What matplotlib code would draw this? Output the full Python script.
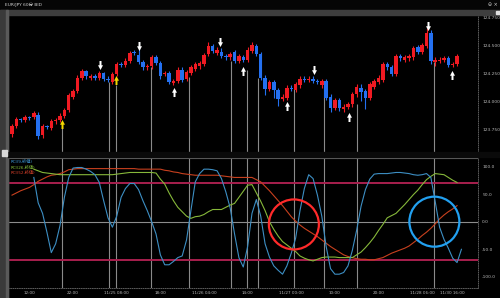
import matplotlib
matplotlib.use("Agg")
import matplotlib.pyplot as plt
import numpy as np
from matplotlib.path import Path
from matplotlib.patches import Rectangle

# ---------------- data ----------------
title = "EUR/JPY 60分 BID"
opens = [
123.71,123.78,123.84,123.83,123.86,123.86,123.88,123.70,123.78,123.76,
123.82,123.83,123.87,123.92,124.04,124.09,124.21,124.27,124.21,124.22,
124.21,124.25,124.20,124.17,124.24,124.33,124.32,124.36,124.44,124.41,
124.35,124.30,124.31,124.39,124.34,124.24,124.25,124.16,124.18,124.28,
124.20,124.25,124.29,124.31,124.33,124.42,124.49,124.43,124.44,124.40,
124.39,124.44,124.36,124.39,124.37,124.45,124.49,124.42,124.21,124.11,
124.17,124.10,124.02,124.03,124.12,124.10,124.14,124.20,124.19,124.20,
124.18,124.14,124.18,124.04,123.94,124.01,123.93,123.95,123.97,124.06,
124.12,124.09,124.03,124.13,124.17,124.19,124.33,124.30,124.24,124.40,
124.37,124.38,124.39,124.48,124.44,124.49,124.61,124.35,124.36,124.37,
124.38,124.32,124.33]
closes = [
123.78,123.84,123.83,123.86,123.85,123.89,123.69,123.78,123.77,123.82,
123.83,123.87,123.92,124.05,124.09,124.21,124.27,124.22,124.22,124.21,
124.25,124.20,124.19,124.24,124.33,124.32,124.36,124.43,124.43,124.35,
124.30,124.31,124.39,124.34,124.22,124.25,124.17,124.18,124.28,124.19,
124.26,124.30,124.33,124.34,124.41,124.49,124.45,124.46,124.40,124.39,
124.42,124.36,124.40,124.37,124.46,124.50,124.42,124.21,124.11,124.17,
124.10,124.02,124.04,124.12,124.11,124.15,124.20,124.19,124.20,124.18,
124.17,124.18,124.03,123.94,124.01,123.94,123.95,123.97,124.06,124.13,
124.08,124.03,124.15,124.18,124.21,124.33,124.30,124.24,124.40,124.38,
124.39,124.40,124.47,124.44,124.50,124.61,124.36,124.37,124.37,124.38,
124.32,124.33,124.40]
highs = [
123.80,123.86,123.85,123.88,123.87,123.91,123.90,123.80,123.79,123.84,
123.85,123.89,123.94,124.07,124.11,124.23,124.29,124.28,124.24,124.24,
124.27,124.26,124.22,124.26,124.35,124.35,124.38,124.45,124.46,124.47,
124.37,124.33,124.41,124.41,124.36,124.27,124.27,124.20,124.30,124.30,
124.28,124.32,124.35,124.36,124.43,124.53,124.51,124.48,124.47,124.42,
124.44,124.46,124.42,124.41,124.48,124.53,124.51,124.44,124.23,124.19,
124.19,124.12,124.06,124.14,124.14,124.17,124.22,124.22,124.22,124.22,
124.20,124.20,124.20,124.06,124.03,124.03,123.97,123.99,124.08,124.15,
124.15,124.11,124.17,124.20,124.23,124.35,124.35,124.32,124.42,124.42,
124.41,124.42,124.49,124.50,124.52,124.65,124.63,124.39,124.39,124.40,
124.40,124.35,124.42]
lows = [
123.68,123.76,123.81,123.81,123.83,123.84,123.66,123.67,123.75,123.74,
123.80,123.81,123.85,123.90,124.02,124.07,124.19,124.20,124.19,124.19,
124.19,124.18,124.17,124.15,124.22,124.30,124.30,124.34,124.41,124.33,
124.28,124.28,124.29,124.32,124.20,124.22,124.15,124.14,124.16,124.17,
124.18,124.23,124.27,124.29,124.31,124.40,124.43,124.41,124.38,124.37,
124.37,124.34,124.34,124.35,124.35,124.43,124.40,124.19,124.05,124.09,
124.03,123.96,124.00,124.01,124.09,124.08,124.12,124.17,124.17,124.16,
124.15,124.12,124.01,123.90,123.92,123.91,123.90,123.93,123.95,124.04,
124.00,123.93,124.01,124.11,124.15,124.17,124.28,124.22,124.22,124.36,
124.35,124.36,124.37,124.42,124.42,124.47,124.33,124.31,124.34,124.35,
124.30,124.30,124.31]

rci9_start = 5
rci9 = [80,34,15,-19,-56,-40,-7,44,80,97,98,98,95,91,85,71,38,7,-10,10,
        44,60,69,69,58,38,20,0,-22,-60,-78,-78,-72,-65,-62,-33,20,72,87,95,
        95,94,92,78,54,25,-22,-65,-82,-45,15,40,10,-40,-64,-80,-88,-95,-80,-57,
        -30,20,60,85,78,48,10,-45,-85,-95,-95,-92,-80,-52,-15,28,58,77,86,87,
        87,87,88,89,89,88,87,85,84,85,87,80,36,-10,-32,-48,-66,-74,-50]
rci26_start = 5
rci26 = [95,92,89,88,87,86,85,85,85,85,85,85,85,85,85,85,85,85,85,86,
         87,88,89,89,89,89,89,89,88,77,68,52,38,26,18,10,6,9,10,13,
         18,22,22,22,26,30,33,44,55,66,67,52,37,20,0,-14,-26,-36,-42,-48,
         -54,-62,-66,-69,-71,-68,-65,-64,-64,-64,-65,-65,-65,-65,-60,-55,-47,-38,-28,-16,
         -5,7,11,15,23,31,40,49,57,67,76,82,87,86,85,80,75,71]
rci52_start = 0
rci52 = [48,52,56,59,62,67,73,77,81,84,85,87,90,94,95,96,96,96,96,96,
         96,96,96,96,96,96,96,96,96,95,95,95,95,95,95,93,92,90,89,87,
         86,85,84,84,84,84,84,84,83,82,81,80,80,80,80,80,76,72,64,56,
         47,38,29,19,9,1,-6,-12,-17,-22,-27,-33,-39,-45,-50,-55,-60,-63,-65,-67,
         -68,-68,-69,-69,-67,-65,-61,-57,-54,-51,-48,-44,-38,-32,-25,-19,-12,-4,5,12,
         18,23,29]

# signal lines (bar position, price where the line starts)
signal_x = [11.5, 22.3, 23.8, 31.9, 40.6, 50.2, 53.9, 56.4, 64.6, 71.5, 79.1, 96.7]
signal_top = [123.768, 124.166, 124.148, 124.308, 124.219, 124.361, 124.281,
              124.210, 124.104, 124.131, 123.971, 124.352]

# arrows (bar position, price, direction, colour)
arrow_x = [11.5, 20.2, 23.8, 29.1, 37.1, 47.7, 52.9, 63.0, 69.2, 77.2, 95.3, 100.8]
arrow_y = [123.80, 124.325, 124.19, 124.49, 124.08, 124.53, 124.27, 123.96,
           124.28, 123.86, 124.67, 124.23]
arrow_dir = ["up", "down", "up", "down", "up", "down", "up", "up", "down", "up", "down", "up"]
arrow_col = ["yellow", "white", "yellow", "white", "white", "white", "white", "white",
             "white", "white", "white", "white"]

circle_x = [64.6, 96.8]
circle_y = [-5, 0]
circle_col = ["#ff2a2a", "#22a0f0"]

price_ticks = [123.75, 124.0, 124.25, 124.5, 124.75]
rci_ticks = [-100, -50, 0, 50, 100]
time_pos = [4, 14, 24, 34, 44, 54, 64, 74, 84, 94, 101]
time_labels = ["12:00", "22:00", "11/25 08:00", "18:00", "11/26 04:00", "14:00",
               "11/27 00:00", "10:00", "20:00", "11/28 06:00", "11/30 16:00"]
legend_labels = ["RCI(9,終値)", "RCI(26,終値)", "RCI(52,終値)"]
rci_level = 70

# ---------------- figure ----------------
W, H = 500, 298
fig = plt.figure(figsize=(W / 100, H / 100), dpi=100, facecolor="black")
FAM = ["DejaVu Sans", "Noto Sans CJK JP"]

def fr(x0, y0, x1, y1):
    return [x0 / W, 1 - y1 / H, (x1 - x0) / W, (y1 - y0) / H]

def rect(x0, y0, x1, y1, color):
    fig.patches.append(Rectangle((x0 / W, 1 - y1 / H), (x1 - x0) / W, (y1 - y0) / H,
                                 transform=fig.transFigure, color=color, zorder=0))

rect(0, 0, 500, 10, "#050505")
rect(0, 10, 500, 15, "#3e3e3e")
rect(0, 10, 8, 298, "#3a3a3a")
rect(6, 10, 8, 298, "#5a5a5a")
rect(496, 11, 500, 14, "#e0e0e0")
rect(8, 152, 500, 157, "#0a0a0a")
rect(2, 150, 7, 156, "#d8d8d8")
fig.text(5 / W, 1 - 5 / H, title, color="#d0d0d0", fontsize=3.2, va="center",
         ha="left", family=FAM)
fig.text(493 / W, 1 - 5 / H, "⊖ ×", color="#d0d0d0", fontsize=3.5, va="center",
         ha="center", family=FAM)

ax1 = fig.add_axes(fr(8, 15, 478, 152), facecolor="black")
ax2 = fig.add_axes(fr(8, 157, 478, 288), facecolor="black")

x0lim, x1lim = -0.92, 106.8
n = len(opens)
idx = np.arange(n)
o = np.array(opens); c = np.array(closes)
hi = np.array(highs); lo = np.array(lows)
up = c >= o
cols = np.where(up, "#f01a22", "#2470f0")
bottoms = np.minimum(o, c)
heights = np.maximum(np.abs(c - o), 0.010)

# signal lines
ax1.vlines(signal_x, [123.546] * len(signal_x), signal_top, color="#8a8a8a", lw=0.8, zorder=1)
ax2.vlines(signal_x, -130, 130, color="#8a8a8a", lw=0.8, zorder=1)

ax1.vlines(idx, lo, hi, color=cols, lw=0.8, zorder=2)
ax1.bar(idx, heights, bottom=bottoms, width=0.8, color=cols, zorder=3, linewidth=0)

down_arrow = Path([(-0.22, 1.0), (0.22, 1.0), (0.22, 0.05), (0.55, 0.05), (0, -1.0),
                   (-0.55, 0.05), (-0.22, 0.05), (-0.22, 1.0)],
                  [Path.MOVETO] + [Path.LINETO] * 6 + [Path.CLOSEPOLY])
up_arrow = Path(down_arrow.vertices * np.array([1, -1]), down_arrow.codes)
colmap = {"white": "#ffffff", "yellow": "#f5d800"}
for ax_, ay, d, cc in zip(arrow_x, arrow_y, arrow_dir, arrow_col):
    ax1.plot([ax_], [ay], marker=(down_arrow if d == "down" else up_arrow),
             markersize=6.5, color=colmap[cc], markeredgewidth=0, zorder=5)

ax1.set_xlim(x0lim, x1lim)
ax1.set_ylim(123.546, 124.768)

# lower panel
ax2.axhline(0, color="#8c8c8c", lw=0.8, zorder=1)
ax2.axhline(rci_level, color="#a81f4e", lw=1.4, zorder=1)
ax2.axhline(-rci_level, color="#a81f4e", lw=1.4, zorder=1)
ax2.axhline(116, color="#6a6a6a", lw=0.8, zorder=1)

ax2.plot(np.arange(len(rci52)) + rci52_start, rci52, color="#c8401e", lw=0.8, zorder=3)
ax2.plot(np.arange(len(rci26)) + rci26_start, rci26, color="#86b83a", lw=0.8, zorder=3)
ax2.plot(np.arange(len(rci9)) + rci9_start, rci9, color="#3d8fc4", lw=0.8, zorder=3)

for cx, cy, cc in zip(circle_x, circle_y, circle_col):
    ax2.scatter([cx], [cy], s=36 ** 2, facecolors="none", edgecolors=cc, linewidths=1.6, zorder=6)

leg_cols = ["#3d9ad8", "#86c03a", "#d8402a"]
for k, (lab, lc) in enumerate(zip(legend_labels, leg_cols)):
    ax2.text(0.006, 0.962 - k * 0.042, lab, transform=ax2.transAxes, color=lc,
             fontsize=3.0, va="center", ha="left", family=FAM, zorder=7)

ax2.set_xlim(x0lim, x1lim)
ax2.set_ylim(-120, 117)

for ax in (ax1, ax2):
    for s in ("top", "left", "bottom", "right"):
        ax.spines[s].set_visible(False)
    ax.spines["right"].set_visible(True)
    ax.spines["right"].set_color("#6a6a6a")
    ax.spines["right"].set_linestyle(":")
    ax.spines["right"].set_linewidth(0.6)
    ax.yaxis.tick_right()
    ax.tick_params(axis="y", length=0, pad=3, labelsize=3.2, labelcolor="#b8b8b8")

ax1.set_yticks(price_ticks)
ax1.set_yticklabels([f"{v:.3f}" for v in price_ticks])
ax1.set_xticks([])

ax2.set_yticks(rci_ticks)
ax2.set_yticklabels([f"{v:.1f}" for v in rci_ticks])
ax2.spines["bottom"].set_visible(True)
ax2.spines["bottom"].set_color("#6a6a6a")
ax2.spines["bottom"].set_linestyle(":")
ax2.spines["bottom"].set_linewidth(0.6)
ax2.set_xticks(time_pos)
ax2.set_xticklabels(time_labels)
ax2.tick_params(axis="x", length=0, pad=2, labelsize=3.0, labelcolor="#b8b8b8")

fig.savefig("out.png", dpi=100, facecolor="black")
